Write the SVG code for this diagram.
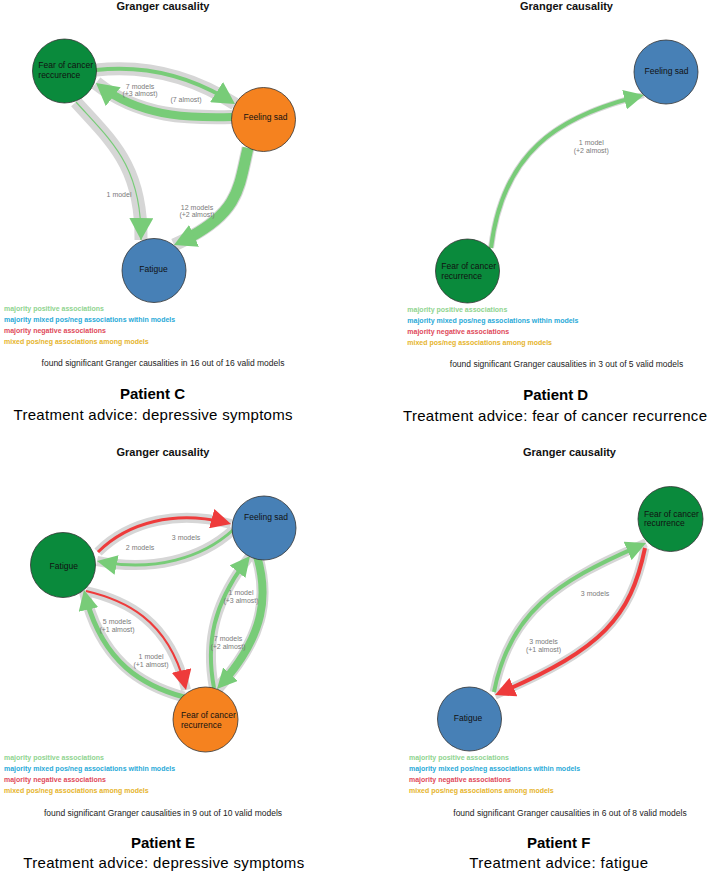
<svg xmlns="http://www.w3.org/2000/svg" width="708" height="872" viewBox="0 0 708 872">
<style>
text{font-family:"Liberation Sans",Arial,sans-serif}
.title{font-size:11px;font-weight:bold;fill:#111;text-anchor:middle}
.nl{font-size:8.5px;fill:#111}
.nlc{font-size:8.5px;fill:#111;text-anchor:middle}
.el{font-size:7px;fill:#7a7a7a;text-anchor:middle}
.lg{font-size:7px;font-weight:bold}
.lg1{fill:#8fd48f}.lg2{fill:#2aaad8}.lg3{fill:#e04a5a}.lg4{fill:#e6b42c}
.ft{font-size:8.5px;fill:#222;text-anchor:middle}
.pt{font-size:15px;font-weight:bold;fill:#000;text-anchor:middle}
.ta{font-size:15px;fill:#000;text-anchor:middle}
.nd{stroke:#333;stroke-width:0.8}
.green{fill:#0a8a3c}.orange{fill:#f5821f}.blue{fill:#4780b6}
.band{fill:none;stroke:#d6d6d6;stroke-linecap:butt}
.eg{fill:none;stroke:#78cc78}
.er{fill:none;stroke:#ee3b3b}
</style>
<defs>
<marker id="gL" viewBox="0 0 22 24" refX="22" refY="12" markerWidth="22" markerHeight="24" markerUnits="userSpaceOnUse" orient="auto"><path d="M0,0 L22,12 L0,24 Z" fill="#78cc78"/></marker>
<marker id="gM" viewBox="0 0 20 20" refX="20" refY="10" markerWidth="20" markerHeight="20" markerUnits="userSpaceOnUse" orient="auto"><path d="M0,0 L20,10 L0,20 Z" fill="#78cc78"/></marker>
<marker id="rM" viewBox="0 0 20 20" refX="20" refY="10" markerWidth="20" markerHeight="20" markerUnits="userSpaceOnUse" orient="auto"><path d="M0,0 L20,10 L0,20 Z" fill="#ee3b3b"/></marker>
</defs>

<!-- ===== Panel C ===== -->
<g id="panelC">
<text class="title" x="163" y="10">Granger causality</text>
<g id="C-connectors">
<path class="band" stroke-width="13" d="M96 70 Q170 62 235 104"/>
<path class="band" stroke-width="14" d="M232 117 C190 118 140 118 96 83"/>
<path class="band" stroke-width="13" d="M76 102 C110 140 142 165 141 240"/>
<path class="band" stroke-width="13" d="M248 148 C238 190 240 215 174 245"/>
<path class="eg" stroke-width="4" pathLength="1000" stroke-dasharray="920 1000" marker-end="url(#gL)" d="M96 70 Q170 62 235 104"/>
<path class="eg" stroke-width="8" pathLength="1000" stroke-dasharray="900 1000" marker-end="url(#gL)" d="M232 117 C190 118 140 118 96 83"/>
<path class="eg" stroke-width="1.2" marker-end="url(#gL)" d="M76 102 C110 140 142 165 141 240"/>
<path class="eg" stroke-width="11" pathLength="1000" stroke-dasharray="860 1000" marker-end="url(#gL)" d="M248 148 C238 190 240 215 174 245"/>
<text class="el" x="140" y="88.5">7 models</text>
<text class="el" x="140" y="96">(+3 almost)</text>
<text class="el" x="186" y="101.5">(7 almost)</text>
<text class="el" x="119" y="196.5">1 model</text>
<text class="el" x="197" y="209.5">12 models</text>
<text class="el" x="197" y="217">(+2 almost)</text>
</g>
<g id="C-fear"><circle class="nd green" cx="64.5" cy="71" r="32"/><text class="nl" x="38.3" y="68">Fear of cancer</text><text class="nl" x="38.3" y="78">reccurence</text></g>
<g id="C-sad"><circle class="nd orange" cx="263.5" cy="119.5" r="32"/><text class="nlc" x="265.5" y="120">Feeling sad</text></g>
<g id="C-fatigue"><circle class="nd blue" cx="154" cy="270.5" r="32"/><text class="nlc" x="153.5" y="272">Fatigue</text></g>
<g id="C-legend">
<text class="lg lg1" x="4" y="311">majority positive associations</text>
<text class="lg lg2" x="4" y="322">majority mixed pos/neg associations within models</text>
<text class="lg lg3" x="4" y="333">majority negative associations</text>
<text class="lg lg4" x="4" y="344">mixed pos/neg associations among models</text>
</g>
<text class="ft" x="163" y="366">found significant Granger causalities in 16 out of 16 valid models</text>
<text class="pt" x="152.5" y="399">Patient C</text>
<text class="ta" x="153" y="420" textLength="279">Treatment advice: depressive symptoms</text>
</g>

<!-- ===== Panel D ===== -->
<g id="panelD">
<text class="title" x="566.5" y="10">Granger causality</text>
<g id="D-connectors">
<path class="band" stroke-width="6" stroke="#e4efe4" d="M491 248 C503 150 560 115 644 95"/>
<path class="eg" stroke-width="4" pathLength="1000" stroke-dasharray="960 1000" marker-end="url(#gM)" d="M491 248 C503 150 560 115 644 95"/>
<text class="el" x="591.3" y="145">1 model</text>
<text class="el" x="591.3" y="153">(+2 almost)</text>
</g>
<g id="D-sad"><circle class="nd blue" cx="666" cy="72" r="32"/><text class="nlc" x="666.5" y="74">Feeling sad</text></g>
<g id="D-fear"><circle class="nd green" cx="467.5" cy="271" r="32"/><text class="nl" x="441.3" y="268.5">Fear of cancer</text><text class="nl" x="441.3" y="278.5">recurrence</text></g>
<g id="D-legend">
<text class="lg lg1" x="407.3" y="312">majority positive associations</text>
<text class="lg lg2" x="407.3" y="323">majority mixed pos/neg associations within models</text>
<text class="lg lg3" x="407.3" y="334">majority negative associations</text>
<text class="lg lg4" x="407.3" y="345">mixed pos/neg associations among models</text>
</g>
<text class="ft" x="566.5" y="367">found significant Granger causalities in 3 out of 5 valid models</text>
<text class="pt" x="555.7" y="400">Patient D</text>
<text class="ta" x="555" y="420.5" textLength="304">Treatment advice: fear of cancer recurrence</text>
</g>

<!-- ===== Panel E ===== -->
<g id="panelE">
<text class="title" x="163" y="456">Granger causality</text>
<g id="E-connectors">
<path class="band" stroke-width="10" d="M98 552 C130 520 180 510 231 524"/>
<path class="band" stroke-width="10" d="M233 530 C200 560 150 572 97 561"/>
<path class="band" stroke-width="10" d="M86 591 C125 600 170 620 186 690"/>
<path class="band" stroke-width="11" d="M184 697 C140 685 100 660 84 590"/>
<path class="band" stroke-width="12" d="M257 556 C270 600 262 640 217 689"/>
<path class="band" stroke-width="10" d="M214 688 C205 640 215 600 250 556"/>
<path class="er" stroke-width="3" pathLength="1000" stroke-dasharray="950 1000" marker-end="url(#rM)" d="M98 552 C130 520 180 510 231 524"/>
<path class="eg" stroke-width="3" pathLength="1000" stroke-dasharray="950 1000" marker-end="url(#gM)" d="M233 530 C200 560 150 572 97 561"/>
<path class="er" stroke-width="2" pathLength="1000" stroke-dasharray="960 1000" marker-end="url(#rM)" d="M86 591 C125 600 170 620 186 690"/>
<path class="eg" stroke-width="5" pathLength="1000" stroke-dasharray="930 1000" marker-end="url(#gM)" d="M184 697 C140 685 100 660 84 590"/>
<path class="eg" stroke-width="8" pathLength="1000" stroke-dasharray="900 1000" marker-end="url(#gM)" d="M257 556 C270 600 262 640 217 689"/>
<path class="eg" stroke-width="4" pathLength="1000" stroke-dasharray="940 1000" marker-end="url(#gM)" d="M214 688 C205 640 215 600 250 556"/>
<text class="el" x="186" y="539.5">3 models</text>
<text class="el" x="140" y="550">2 models</text>
<text class="el" x="241" y="595">1 model</text>
<text class="el" x="241" y="603">(+3 almost)</text>
<text class="el" x="117" y="623.5">5 models</text>
<text class="el" x="117" y="632">(+1 almost)</text>
<text class="el" x="228" y="641">7 models</text>
<text class="el" x="228" y="649">(+2 almost)</text>
<text class="el" x="151" y="658.5">1 model</text>
<text class="el" x="151" y="667">(+1 almost)</text>
</g>
<g id="E-sad"><circle class="nd blue" cx="264" cy="528" r="32"/><text class="nlc" x="266" y="520">Feeling sad</text></g>
<g id="E-fatigue"><circle class="nd green" cx="63" cy="565" r="32.5"/><text class="nlc" x="63.8" y="568.5">Fatigue</text></g>
<g id="E-fear"><circle class="nd orange" cx="205.5" cy="719.5" r="32.5"/><text class="nl" x="181" y="718">Fear of cancer</text><text class="nl" x="181" y="728">recurrence</text></g>
<g id="E-legend">
<text class="lg lg1" x="4" y="760">majority positive associations</text>
<text class="lg lg2" x="4" y="771">majority mixed pos/neg associations within models</text>
<text class="lg lg3" x="4" y="782">majority negative associations</text>
<text class="lg lg4" x="4" y="793">mixed pos/neg associations among models</text>
</g>
<text class="ft" x="163" y="816">found significant Granger causalities in 9 out of 10 valid models</text>
<text class="pt" x="163" y="848">Patient E</text>
<text class="ta" x="163.7" y="868" textLength="281">Treatment advice: depressive symptoms</text>
</g>

<!-- ===== Panel F ===== -->
<g id="panelF">
<text class="title" x="569.5" y="456">Granger causality</text>
<g id="F-connectors">
<path class="band" stroke-width="9" d="M494 692 C510 610 560 580 646 543"/>
<path class="band" stroke-width="9" d="M645 548 C630 620 600 650 495 695"/>
<path class="eg" stroke-width="4" pathLength="1000" stroke-dasharray="960 1000" marker-end="url(#gM)" d="M494 692 C510 610 560 580 646 543"/>
<path class="er" stroke-width="4" pathLength="1000" stroke-dasharray="960 1000" marker-end="url(#rM)" d="M645 548 C630 620 600 650 495 695"/>
<text class="el" x="595" y="596">3 models</text>
<text class="el" x="543.5" y="643.5">3 models</text>
<text class="el" x="543.5" y="652">(+1 almost)</text>
</g>
<g id="F-fear"><circle class="nd green" cx="670.5" cy="519" r="32.5"/><text class="nl" x="644" y="516.5">Fear of cancer</text><text class="nl" x="644" y="526">recurrence</text></g>
<g id="F-fatigue"><circle class="nd blue" cx="469.5" cy="719" r="32"/><text class="nlc" x="468" y="721">Fatigue</text></g>
<g id="F-legend">
<text class="lg lg1" x="409" y="760">majority positive associations</text>
<text class="lg lg2" x="409" y="771">majority mixed pos/neg associations within models</text>
<text class="lg lg3" x="409" y="782">majority negative associations</text>
<text class="lg lg4" x="409" y="793">mixed pos/neg associations among models</text>
</g>
<text class="ft" x="570" y="816">found significant Granger causalities in 6 out of 8 valid models</text>
<text class="pt" x="558.7" y="848">Patient F</text>
<text class="ta" x="558.7" y="868" textLength="179">Treatment advice: fatigue</text>
</g>
</svg>
